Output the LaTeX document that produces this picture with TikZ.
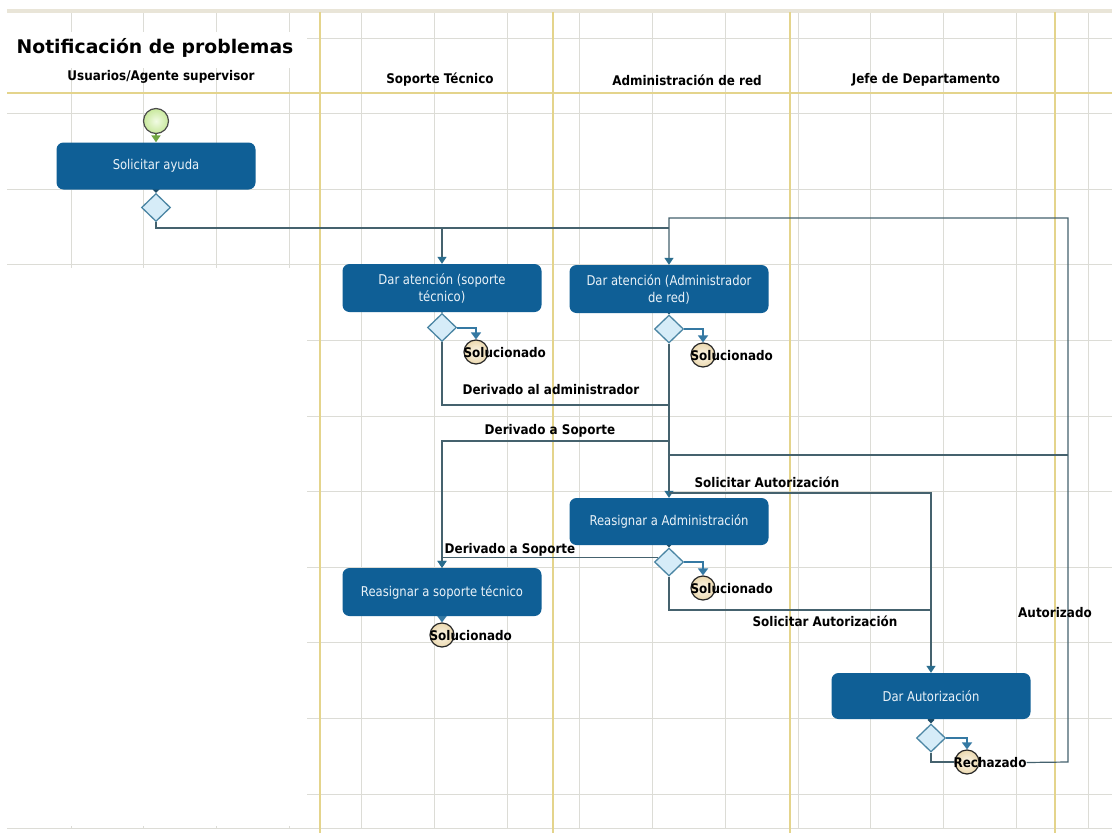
\documentclass[tikz,border=0pt]{standalone}
\usepackage{fontspec}
\usetikzlibrary{shapes.geometric,arrows.meta,calc}
\newfontfamily\lblfont[FakeStretch=0.9]{DejaVu Sans}
\newfontfamily\boxfont[FakeStretch=0.86]{DejaVu Sans}
\newfontfamily\ttlfont{DejaVu Sans}

\definecolor{actblue}{HTML}{0F5F96}
\definecolor{boxtext}{HTML}{EAF2F8}
\definecolor{gridc}{HTML}{DCDCD6}
\definecolor{lanec}{HTML}{E4D48C}
\definecolor{bandc}{HTML}{E9E5D8}
\definecolor{wire}{HTML}{45626E}
\definecolor{tipc}{HTML}{2A6D8E}
\definecolor{gatec}{HTML}{1E4C66}
\definecolor{decfill}{HTML}{D6ECF8}
\definecolor{decline}{HTML}{4C86A4}
\definecolor{finin}{HTML}{FCF7EA}
\definecolor{finout}{HTML}{EBD8AE}
\definecolor{startin}{HTML}{F1FBE4}
\definecolor{startout}{HTML}{C8E89C}
\definecolor{initc}{HTML}{6FA540}
\definecolor{solc}{HTML}{3579A3}

\pgfdeclarelayer{gridlayer}
\pgfdeclarelayer{wires}
\pgfsetlayers{gridlayer,wires,main}

\begin{document}
\begin{tikzpicture}[x=1pt,y=-1pt,
  act/.style={rectangle, rounded corners=7pt, fill=actblue, text=boxtext,
    minimum width=199pt, minimum height=47pt, inner sep=0pt, align=center,
    font=\boxfont\fontsize{13.5}{17}\selectfont},
  dec/.style={diamond, draw=decline, fill=decfill, line width=1.3pt,
    minimum width=29pt, minimum height=28pt, inner sep=0pt},
  fin/.style={circle, draw=black!85, line width=1.2pt, minimum size=24pt,
    inner sep=0pt, inner color=finin, outer color=finout},
  initnode/.style={circle, draw=black!70, line width=1.2pt, minimum size=25pt,
    inner sep=0pt, inner color=startin, outer color=startout},
  lbl/.style={inner sep=0pt, text=black, font=\lblfont\bfseries\fontsize{13.3}{15}\selectfont},
  ttl/.style={inner sep=0pt, text=black, font=\ttlfont\bfseries\fontsize{18.8}{22}\selectfont},
  flow/.style={draw=wire, line width=1.2pt},
  flowto/.style={flow, -{Triangle[width=9pt,length=7pt,color=tipc]}},
  gate/.style={draw=gatec, line width=1.4pt, -{Turned Square[width=7pt,length=7pt,color=gatec]}},
  solflow/.style={draw=solc, line width=2pt, -{Triangle[width=10pt,length=7pt]}},
  initflow/.style={draw=initc, line width=2pt, -{Triangle[width=9pt,length=7pt]}},
  gridline/.style={draw=gridc, line width=1pt},
  laneline/.style={draw=lanec, line width=2pt}]

\useasboundingbox (0,0) rectangle (1112,833);

% ---------- background grid and swimlanes ----------
\begin{pgfonlayer}{gridlayer}
  \fill[white] (0,0) rectangle (1112,833);
  \foreach \k in {0,...,14}
    \draw[gridline] ({71+72.7*\k},13) -- ({71+72.7*\k},828);
  \foreach \k in {0,...,10}
    \draw[gridline] (7,{38+75.6*\k}) -- (1112,{38+75.6*\k});
  % blank area of the first lane and behind the title
  \fill[white] (0,268) rectangle (307,826);
  \fill[white] (0,32) rectangle (307,68);
  % frame
  \draw[draw=bandc, line width=3.5pt] (7,11) -- (1112,11);
  \draw[gridline] (7,828) -- (1112,828);
  % lane separators
  \foreach \lx in {320,553,790,1055}
    \draw[laneline] (\lx,12) -- (\lx,833);
  \draw[draw=lanec, line width=1.6pt] (7,93) -- (1112,93);
\end{pgfonlayer}

% ---------- titles ----------
\node[ttl] (title) at (155,48) {Notificación de problemas};
\node[lbl] (lane1) at (161,77) {Usuarios/Agente supervisor};
\node[lbl] (lane2) at (440,80) {Soporte Técnico};
\node[lbl] (lane3) at (687,80) {Administración de red};
\node[lbl] (lane4) at (926,80) {Jefe de Departamento};

% ---------- activities ----------
\node[initnode] (start) at (156,121) {};
\node[act] (ask)  at (156,166) {Solicitar ayuda};
\node[dec] (d1)   at (156,207.5) {};

\node[act, minimum height=48pt] (sup) at (442,288) {Dar atención (soporte\\técnico)};
\node[dec] (d2)   at (442,327.5) {};
\node[fin] (sol2) at (476,352) {};

\node[act, minimum height=48pt] (adm) at (669,289) {Dar atención (Administrador\\de red)};
\node[dec] (d3)   at (669,329) {};
\node[fin] (sol3) at (703,355) {};

\node[act] (radm) at (669,521.5) {Reasignar a Administración};
\node[dec] (d4)   at (669,562) {};
\node[fin] (sol4) at (703,588) {};

\node[act, minimum height=48pt] (rsup) at (442,592) {Reasignar a soporte técnico};
\node[fin] (sol5) at (442,635) {};

\node[act, minimum height=46pt] (auth) at (931,696) {Dar Autorización};
\node[dec] (d6)   at (931,738) {};
\node[fin] (rej)  at (967,762) {};

% ---------- end state names ----------
\node[lbl, anchor=west] (tsol2) at ($(sol2.west)+(0,0.5)$) {Solucionado};
\node[lbl, anchor=west] (tsol3) at ($(sol3.west)+(0,0.5)$) {Solucionado};
\node[lbl, anchor=west] (tsol4) at ($(sol4.west)+(0,0.5)$) {Solucionado};
\node[lbl, anchor=west] (tsol5) at ($(sol5.west)+(0,0.5)$) {Solucionado};
\node[lbl, anchor=west] (trej)  at ($(rej.west)+(-1,0.5)$) {Rechazado};

% ---------- transition labels ----------
\node[lbl] (tder1) at (551,390) {Derivado al administrador};
\node[lbl] (tder2) at (550,431) {Derivado a Soporte};
\node[lbl] (tder3) at (510,550) {Derivado a Soporte};
\node[lbl] (treq1) at (767,482) {Solicitar Autorización};
\node[lbl] (treq2) at (825,621) {Solicitar Autorización};
\node[lbl] (taut)  at (1055,613) {Autorizado};

% ---------- junction points ----------
\coordinate (adminjoin) at (669,228);
\coordinate (righttop) at (1068,218);
\coordinate (rightbottom) at (1068,762);
\coordinate (rightmid) at (1068,455);
\coordinate (der1) at (669,405);
\coordinate (der2) at (669,441);
\coordinate (req1) at (669,493);
\coordinate (req2) at (931,610);

% ---------- transitions ----------
\begin{pgfonlayer}{wires}
  \draw[initflow] (start) -- (ask);
  \draw[gate] (ask.south) -- (d1.north);
  \draw[flow] (d1.south) |- (adminjoin);
  \draw[flowto] (d1.south) |- (sup.north |- adminjoin) -- (sup.north);

  \draw[gate] (sup.south) -- (d2.north);
  \draw[solflow] (d2.east) -| (sol2.north);
  \draw[flow] (d2.south) |- (der1);

  \draw[gate] (adm.south) -- (d3.north);
  \draw[solflow] (d3.east) -| (sol3.north);
  \draw[flowto] (d3.south) -- (radm.north);
  \draw[flowto] (der2) -| (rsup.north);
  \draw[flow] (rightmid) -- (adm.south |- rightmid);
  \draw[flowto] (req1) -| (auth.north);

  \draw[gate] (radm.south) -- (d4.north);
  \draw[solflow] (d4.east) -| (sol4.north);
  \draw[flowto] ($(d4.west)!0.3!(d4.north)$) -| (rsup.north);
  \draw[flow] (d4.south) |- (req2);

  \draw[solflow] (rsup.south) -- (sol5.north);

  \draw[gate] (auth.south) -- (d6.north);
  \draw[solflow] (d6.east) -| (rej.north);
  \draw[flow] (d6.south) |- (rej.west);
  \draw[flowto] (trej.east) -- (rightbottom) -- (righttop) -| (adm.north);
\end{pgfonlayer}
\end{tikzpicture}
\end{document}
